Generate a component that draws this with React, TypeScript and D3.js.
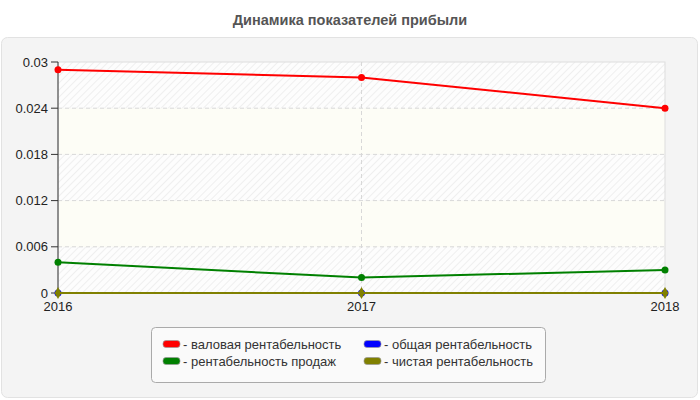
import React from 'react';
import { scaleLinear, scalePoint, line, range, symbol, symbolDiamond } from 'd3';

const years = ['2016', '2017', '2018'];
const grossMargin = [0.029, 0.028, 0.024];
const totalMargin = [0, 0, 0];
const salesMargin = [0.004, 0.002, 0.003];
const netMargin = [0, 0, 0];
const yTicks = [0, 0.006, 0.012, 0.018, 0.024, 0.03];
const yTickLabels = ['0', '0.006', '0.012', '0.018', '0.024', '0.03'];

const series = [
  { name: '- валовая рентабельность', color: '#ff0000', values: grossMargin, marker: 'circle' },
  { name: '- общая рентабельность', color: '#0000ff', values: totalMargin, marker: 'circle' },
  { name: '- рентабельность продаж', color: '#008000', values: salesMargin, marker: 'circle' },
  { name: '- чистая рентабельность', color: '#808000', values: netMargin, marker: 'diamond' },
];

const width = 700;
const height = 400;
const margin = { top: 62, right: 35, bottom: 107, left: 58 };
const innerWidth = width - margin.left - margin.right;
const innerHeight = height - margin.top - margin.bottom;
const font = 'Arial, "Liberation Sans", sans-serif';

function App() {
  const xScale = scalePoint().domain(years).range([0, innerWidth]);
  const yScale = scaleLinear().domain([0, 0.03]).range([innerHeight, 0]);

  const lineGen = line<number>()
    .x((_, i) => xScale(years[i])!)
    .y(d => yScale(d));

  const diamond = symbol().type(symbolDiamond).size(40)()!;

  // blue goes under olive, both are zero
  const drawOrder = [1, 3, 2, 0];

  return (
    <svg width={width} height={height} style={{ position: 'absolute', left: 0, top: 0 }}>
      <defs>
        <pattern id="hatch" width="5" height="5" patternUnits="userSpaceOnUse" patternTransform="rotate(45)">
          <rect width="5" height="5" fill="#fdfdfd" />
          <line x1="0" y1="0" x2="0" y2="5" stroke="#efefef" strokeWidth="2" />
        </pattern>
      </defs>
      <rect x={0} y={0} width={width} height={height} fill="#ffffff" />
      <text x={350} y={25} textAnchor="middle" fontFamily={font} fontWeight="bold" fontSize={14.5} fill="#555555">
        Динамика показателей прибыли
      </text>
      <rect x={1.5} y={37.5} width={696} height={360} rx={6} fill="#f4f4f4" stroke="#e2e2e2" />

      <g transform={`translate(${margin.left}, ${margin.top})`}>
        {range(yTicks.length - 1).map(i => {
          const y0 = yScale(yTicks[i + 1]);
          const y1 = yScale(yTicks[i]);
          return (
            <rect
              key={i}
              x={0}
              y={y0}
              width={innerWidth}
              height={y1 - y0}
              fill={i % 2 === 0 ? 'url(#hatch)' : '#fdfdf6'}
            />
          );
        })}
        <rect x={0} y={0} width={innerWidth} height={innerHeight} fill="none" stroke="#dddddd" />

        {yTicks.slice(1, -1).map(t => (
          <line key={t} x1={0} x2={innerWidth} y1={yScale(t)} y2={yScale(t)} stroke="#d8d8d8" strokeDasharray="4,3" />
        ))}
        {years.slice(1, -1).map(y => (
          <line key={y} x1={xScale(y)} x2={xScale(y)} y1={0} y2={innerHeight} stroke="#d8d8d8" strokeDasharray="4,3" />
        ))}

        <line x1={0} x2={0} y1={0} y2={innerHeight} stroke="#333333" />
        <line x1={0} x2={innerWidth} y1={innerHeight} y2={innerHeight} stroke="#333333" />
        {yTicks.map((t, i) => (
          <g key={t} transform={`translate(0, ${yScale(t)})`}>
            <line x1={-7} x2={0} stroke="#333333" />
            <text x={-10} dy="0.35em" textAnchor="end" fontFamily={font} fontSize={13} fill="#222222">
              {yTickLabels[i]}
            </text>
          </g>
        ))}
        {years.map(y => (
          <g key={y} transform={`translate(${xScale(y)}, ${innerHeight})`}>
            <line y1={0} y2={4} stroke="#333333" />
            <text y={18} textAnchor="middle" fontFamily={font} fontSize={13} fill="#222222">
              {y}
            </text>
          </g>
        ))}

        {drawOrder.map(si => {
          const s = series[si];
          return (
            <g key={s.name}>
              <path d={lineGen(s.values)!} fill="none" stroke={s.color} strokeWidth={2} />
              {s.values.map((v, i) =>
                s.marker === 'diamond' ? (
                  <path
                    key={i}
                    d={diamond}
                    transform={`translate(${xScale(years[i])}, ${yScale(v)})`}
                    fill={s.color}
                  />
                ) : (
                  <circle key={i} cx={xScale(years[i])} cy={yScale(v)} r={3.5} fill={s.color} />
                )
              )}
            </g>
          );
        })}
      </g>

      <g>
        <rect x={151.5} y={327.5} width={394} height={55} rx={4} fill="#fafafa" stroke="#aaaaaa" />
        {series.map((s, i) => {
          const col = i % 2;
          const row = Math.floor(i / 2);
          const x = col === 0 ? 163 : 364;
          const y = 344 + row * 17;
          return (
            <g key={s.name} transform={`translate(${x}, ${y})`}>
              <rect x={0} y={-3.5} width={17} height={7} rx={3} fill={s.color} stroke="#999999" strokeWidth={0.7} />
              <text x={20} dy="0.35em" fontFamily={font} fontSize={13} fill="#333333">
                {s.name}
              </text>
            </g>
          );
        })}
      </g>
    </svg>
  );
}

export default App;
